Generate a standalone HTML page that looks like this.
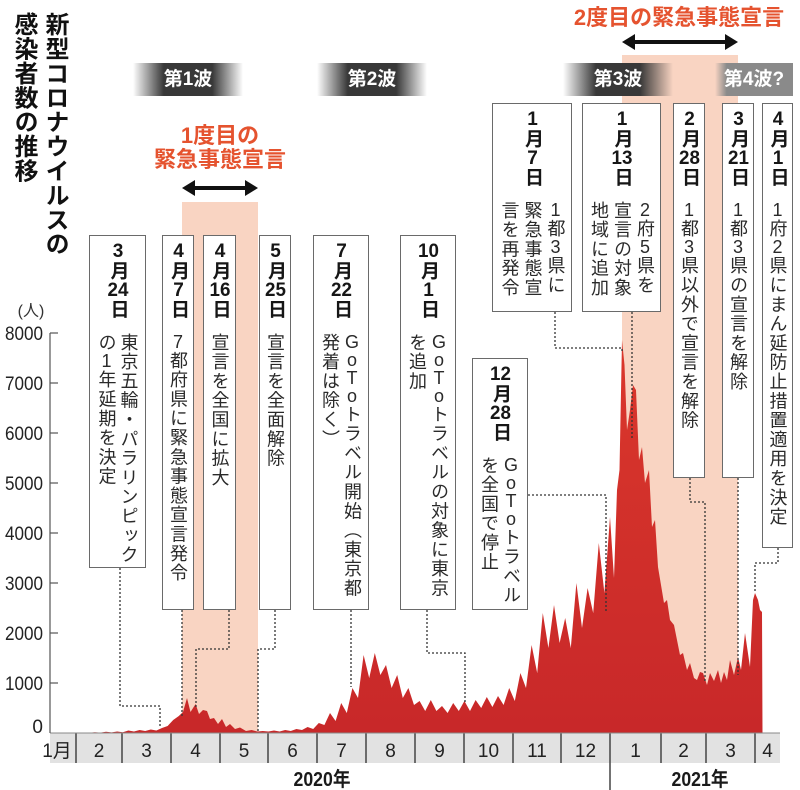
<!DOCTYPE html>
<html><head><meta charset="utf-8">
<style>
html,body{margin:0;padding:0;background:#fff}
#c{position:relative;width:800px;height:790px;overflow:hidden;background:#fff;font-family:"Liberation Sans","Noto Sans CJK JP",sans-serif;color:#222}
.box{position:absolute;background:#fff;border:1.5px solid #6a6a6a;box-sizing:border-box}
.v{writing-mode:vertical-rl;text-orientation:upright;white-space:nowrap;position:absolute;left:0;right:0;margin:0 auto}
.d{top:6px;width:20px;font-weight:bold;font-size:19px;line-height:20px;letter-spacing:0.5px;color:#161616}
.b{top:97px;font-size:18px;line-height:22px;letter-spacing:1.3px;color:#2a2a2a}
.b3{line-height:23px}
.t{text-combine-upright:all}
.w{position:absolute;height:33px;color:#fff;font-weight:bold;font-size:19px;line-height:33px;text-align:center}
.title{position:absolute;left:8px;top:12px;width:62px;writing-mode:vertical-rl;text-orientation:upright;font-weight:bold;font-size:24px;line-height:31px;letter-spacing:0.4px;color:#111;white-space:nowrap}
.o{position:absolute;text-align:center;color:#e5532f;font-weight:bold;font-size:22px;line-height:24px;white-space:nowrap}
</style></head><body>
<div id="c">
<svg width="800" height="790" style="position:absolute;left:0;top:0" xmlns="http://www.w3.org/2000/svg">
  <defs>
    <linearGradient id="g" x1="0" y1="0" x2="0" y2="1">
      <stop offset="0" stop-color="#da372c"/>
      <stop offset="1" stop-color="#c82829"/>
    </linearGradient>
  </defs>
  <!-- pink emergency periods -->
  <rect x="182" y="202" width="76" height="531" fill="#f9d4c2"/>
  <rect x="622" y="55" width="116" height="678" fill="#f9d4c2"/>
  <!-- x axis band -->
  <rect x="50" y="733" width="730" height="30" fill="#e2e2e2"/>
  <g stroke="#444" stroke-width="1.5">
    <line x1="76" y1="733" x2="76" y2="763"/>
    <line x1="122" y1="733" x2="122" y2="763"/>
    <line x1="171" y1="733" x2="171" y2="763"/>
    <line x1="220" y1="733" x2="220" y2="763"/>
    <line x1="268" y1="733" x2="268" y2="763"/>
    <line x1="317" y1="733" x2="317" y2="763"/>
    <line x1="366" y1="733" x2="366" y2="763"/>
    <line x1="415" y1="733" x2="415" y2="763"/>
    <line x1="464" y1="733" x2="464" y2="763"/>
    <line x1="513" y1="733" x2="513" y2="763"/>
    <line x1="561" y1="733" x2="561" y2="763"/>
    <line x1="610" y1="733" x2="610" y2="790"/>
    <line x1="661" y1="733" x2="661" y2="763"/>
    <line x1="706" y1="733" x2="706" y2="763"/>
    <line x1="755" y1="733" x2="755" y2="763"/>
  </g>
  <!-- bars -->
  <polygon fill="url(#g)" points="50,733 50,732.8 55.6,732.9 61.2,732.7 66.8,732.9 72.4,732.6 78,732.8 83.6,732.5 89.2,732.7 94.8,732.2 100.4,732.6 106,731.8 111.6,732.4 117.2,731.5 122.8,732.2 128.4,730.5 134,731.5 139.6,730 145.2,731 150.8,729.5 156.4,730.5 162,728 167.6,726 173.2,720 178.8,716 183,712 187,698 190.5,712 195.6,704 199,714 203,710 207,711 210,719 214,718 218,724 222,719 226,727 230,724 235,729 240,727.5 246,731 251.6,730 257.2,731.5 262.8,731 268.4,731.5 274,730.5 279.6,731.5 285.2,730 290.8,731 296.4,729 302,730 307.6,727 313.2,729 318.8,723 324.4,725 330,713 335.6,721 341.2,703 346.8,713 352.4,688 358,698 363.6,655 369.2,678 374.8,653 380.4,675 386,665 391.6,688 397.2,675 402.8,698 408.4,688 414,705 419.6,701 425.2,711 430.8,700 436.4,711 442,706 447.6,713 453.2,703 458.8,711 464.4,701 470,711 475.6,700 481.2,708 486.8,697 492.4,707 498,696 503.6,705 509.2,688 514.8,701 520.4,673 526,688 531.6,645 537.2,673 542.8,613 548.4,648 554,605 559.6,643 565.2,618 570.8,648 576.4,583 582,628 587.6,588 593.2,613 598.8,543 604.4,593 610,517 614,578 617,490 619.5,470 622,340 624.5,365 627,430 630,410 633,385 636,390 639,460 642,447 645,483 649,470 652,527 655,520 658,567 661,585 664,603 667,600 670,620 674,625 677,640 680,655 683,653 687,670 690,663 694,678 697,680 700,672 703,673 707,685 710,673 714,681 718,670 721,683 724,672 727,680 730,660 734,675 738,657 741,670 745,633 750,667 753,600 755,593 758,600 760,610 762,612 762.5,733"/>
  <line x1="50" y1="733" x2="780" y2="733" stroke="#888" stroke-width="1"/>
  <!-- y axis -->
  <g stroke="#555" stroke-width="1.2">
    <line x1="50" y1="333" x2="50" y2="733"/>
    <line x1="50" y1="333" x2="58" y2="333"/>
    <line x1="50" y1="383" x2="58" y2="383"/>
    <line x1="50" y1="433" x2="58" y2="433"/>
    <line x1="50" y1="483" x2="58" y2="483"/>
    <line x1="50" y1="533" x2="58" y2="533"/>
    <line x1="50" y1="583" x2="58" y2="583"/>
    <line x1="50" y1="633" x2="58" y2="633"/>
    <line x1="50" y1="683" x2="58" y2="683"/>
  </g>
  <!-- dotted connectors -->
  <g fill="none" stroke="#333" stroke-width="1.3" stroke-dasharray="2 2">
    <polyline points="120,568 120,706 160,706 160,727"/>
    <polyline points="182,610 182,717"/>
    <polyline points="229,610 229,649 196,649 196,707"/>
    <polyline points="275,610 275,649 258,649 258,732"/>
    <polyline points="351,610 351,687"/>
    <polyline points="427,610 427,653 465,653 465,703"/>
    <polyline points="528,495 606,495 606,613"/>
    <polyline points="555,312 555,348 622,348 622,353"/>
    <polyline points="632,312 632,438"/>
    <polyline points="690,478 690,502 705,502 705,682"/>
    <polyline points="738,478 738,675"/>
    <polyline points="778,548 778,563 755,563 755,593"/>
  </g>
  <!-- arrows -->
  <g fill="#111" stroke="#111">
    <line x1="192" y1="188" x2="248" y2="188" stroke-width="4"/>
    <polygon stroke="none" points="182,188 195,180 195,196"/>
    <polygon stroke="none" points="258,188 245,180 245,196"/>
    <line x1="632" y1="42" x2="728" y2="42" stroke-width="4"/>
    <polygon stroke="none" points="622,42 635,34 635,50"/>
    <polygon stroke="none" points="738,42 725,34 725,50"/>
  </g>
  <!-- y labels -->
  <g font-family="Liberation Sans, Noto Sans CJK JP, sans-serif" font-size="19" fill="#222" text-anchor="end">
    <text x="43" y="340" textLength="38" lengthAdjust="spacingAndGlyphs">8000</text>
    <text x="43" y="390" textLength="38" lengthAdjust="spacingAndGlyphs">7000</text>
    <text x="43" y="440" textLength="38" lengthAdjust="spacingAndGlyphs">6000</text>
    <text x="43" y="490" textLength="38" lengthAdjust="spacingAndGlyphs">5000</text>
    <text x="43" y="540" textLength="38" lengthAdjust="spacingAndGlyphs">4000</text>
    <text x="43" y="590" textLength="38" lengthAdjust="spacingAndGlyphs">3000</text>
    <text x="43" y="640" textLength="38" lengthAdjust="spacingAndGlyphs">2000</text>
    <text x="43" y="690" textLength="38" lengthAdjust="spacingAndGlyphs">1000</text>
    <text x="43" y="733">0</text>
  </g>
  <text x="31" y="316" font-family="Liberation Sans, Noto Sans CJK JP, sans-serif" font-size="16" fill="#333" text-anchor="middle">(人)</text>
  <!-- month labels -->
  <g font-family="Liberation Sans, Noto Sans CJK JP, sans-serif" font-size="19" fill="#222" text-anchor="middle">
    <text x="57" y="757">1月</text>
    <text x="99" y="757">2</text>
    <text x="146.5" y="757">3</text>
    <text x="195.5" y="757">4</text>
    <text x="244" y="757">5</text>
    <text x="292.5" y="757">6</text>
    <text x="341.5" y="757">7</text>
    <text x="390.5" y="757">8</text>
    <text x="439.5" y="757">9</text>
    <text x="488.5" y="757">10</text>
    <text x="537" y="757">11</text>
    <text x="585.5" y="757">12</text>
    <text x="635.5" y="757">1</text>
    <text x="683.5" y="757">2</text>
    <text x="730.5" y="757">3</text>
    <text x="767.5" y="757">4</text>
  </g>
  <g font-family="Liberation Sans, Noto Sans CJK JP, sans-serif" font-size="20" font-weight="bold" fill="#1a1a1a" text-anchor="middle">
    <text x="322" y="786" textLength="57" lengthAdjust="spacingAndGlyphs">2020年</text>
    <text x="700" y="786" textLength="57" lengthAdjust="spacingAndGlyphs">2021年</text>
  </g>
</svg>

<div class="title">新型コロナウイルスの<br>感染者数の推移</div>

<div class="w" style="left:133px;top:63px;width:110px;background:linear-gradient(90deg,rgba(55,55,55,0),#383838 28%,#383838 72%,rgba(55,55,55,0))">第1波</div>
<div class="w" style="left:317px;top:63px;width:110px;background:linear-gradient(90deg,rgba(55,55,55,0),#383838 28%,#383838 72%,rgba(55,55,55,0))">第2波</div>
<div class="w" style="left:563px;top:63px;width:110px;background:linear-gradient(90deg,rgba(55,55,55,0),#383838 30%,#383838 70%,rgba(55,55,55,0))">第3波</div>
<div class="w" style="left:715px;top:63px;width:78px;background:linear-gradient(90deg,rgba(120,120,120,0),#8a8a8a 15%,#8a8a8a)">第4波?</div>

<div class="o" style="left:150px;top:124px;width:140px">1度目の<br>緊急事態宣言</div>
<div class="o" style="left:559px;top:6px;width:240px">2度目の緊急事態宣言</div>

<div class="box" style="left:89px;top:235px;width:57px;height:333px">
  <div class="v d"><span class="t">3</span>月<span class="t">24</span>日</div>
  <div class="v b" style="width:44px">東京五輪・パラリンピック<br>の<span class="t">1</span>年延期を決定</div>
</div>
<div class="box" style="left:162px;top:235px;width:32px;height:375px">
  <div class="v d"><span class="t">4</span>月<span class="t">7</span>日</div>
  <div class="v b" style="width:22px"><span class="t">7</span>都府県に緊急事態宣言発令</div>
</div>
<div class="box" style="left:203px;top:235px;width:33px;height:375px">
  <div class="v d"><span class="t">4</span>月<span class="t">16</span>日</div>
  <div class="v b" style="width:22px">宣言を全国に拡大</div>
</div>
<div class="box" style="left:259px;top:235px;width:32px;height:375px">
  <div class="v d"><span class="t">5</span>月<span class="t">25</span>日</div>
  <div class="v b" style="width:22px">宣言を全面解除</div>
</div>
<div class="box" style="left:313px;top:235px;width:56px;height:375px">
  <div class="v d"><span class="t">7</span>月<span class="t">22</span>日</div>
  <div class="v b" style="width:44px"><span class="t">G</span><span class="t">o</span><span class="t">T</span><span class="t">o</span>トラベル開始（東京都<br>発着は除く）</div>
</div>
<div class="box" style="left:400px;top:235px;width:56px;height:375px">
  <div class="v d"><span class="t">10</span>月<span class="t">1</span>日</div>
  <div class="v b" style="width:44px"><span class="t">G</span><span class="t">o</span><span class="t">T</span><span class="t">o</span>トラベルの対象に東京<br>を追加</div>
</div>
<div class="box" style="left:472px;top:358px;width:56px;height:252px">
  <div class="v d"><span class="t">12</span>月<span class="t">28</span>日</div>
  <div class="v b" style="width:44px"><span class="t">G</span><span class="t">o</span><span class="t">T</span><span class="t">o</span>トラベル<br>を全国で停止</div>
</div>
<div class="box" style="left:492px;top:103px;width:80px;height:209px">
  <div class="v d"><span class="t">1</span>月<span class="t">7</span>日</div>
  <div class="v b b3" style="width:69px"><span class="t">1</span>都<span class="t">3</span>県に<br>緊急事態宣<br>言を再発令</div>
</div>
<div class="box" style="left:582px;top:103px;width:79px;height:209px">
  <div class="v d"><span class="t">1</span>月<span class="t">13</span>日</div>
  <div class="v b b3" style="width:69px"><span class="t">2</span>府<span class="t">5</span>県を<br>宣言の対象<br>地域に追加</div>
</div>
<div class="box" style="left:673px;top:103px;width:32px;height:375px">
  <div class="v d"><span class="t">2</span>月<span class="t">28</span>日</div>
  <div class="v b" style="width:22px"><span class="t">1</span>都<span class="t">3</span>県以外で宣言を解除</div>
</div>
<div class="box" style="left:722px;top:103px;width:32px;height:375px">
  <div class="v d"><span class="t">3</span>月<span class="t">21</span>日</div>
  <div class="v b" style="width:22px"><span class="t">1</span>都<span class="t">3</span>県の宣言を解除</div>
</div>
<div class="box" style="left:762px;top:103px;width:31px;height:445px">
  <div class="v d"><span class="t">4</span>月<span class="t">1</span>日</div>
  <div class="v b" style="width:22px"><span class="t">1</span>府<span class="t">2</span>県にまん延防止措置適用を決定</div>
</div>
</div>
</body></html>
